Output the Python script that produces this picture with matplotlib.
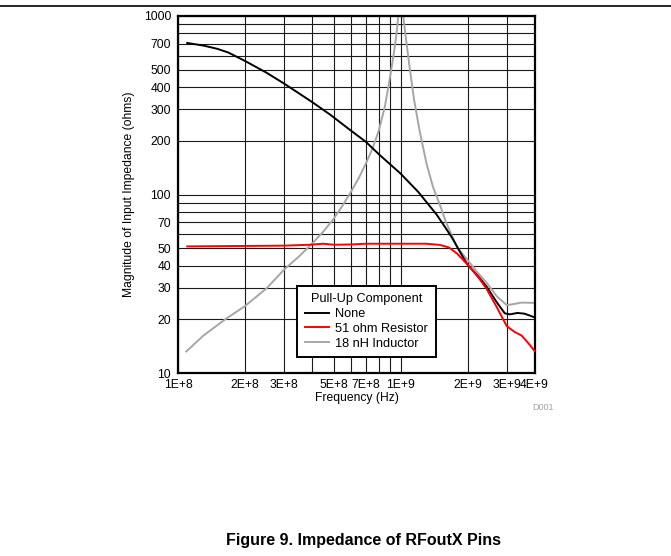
import matplotlib
matplotlib.use("Agg")
import matplotlib.pyplot as plt
from matplotlib.ticker import FixedLocator, NullFormatter

plt.rcParams['font.family'] = ['Liberation Sans', 'DejaVu Sans']

# ---- data ----
freq_none = [1.1e8, 1.3e8, 1.5e8, 1.68e8, 2e8, 2.5e8, 3e8, 4e8, 4.83e8, 5.93e8,
             6.96e8, 8.08e8, 1.0e9, 1.2e9, 1.45e9, 1.55e9, 1.7e9, 1.91e9, 2e9,
             2.27e9, 2.44e9, 2.7e9, 2.94e9, 3.1e9, 3.35e9, 3.6e9, 3.8e9, 4e9]
z_none = [706, 683, 655, 625, 560, 481, 418, 330, 280, 230,
          198, 166, 131, 103.5, 77.4, 68.5, 57.5, 44.5, 40.5,
          34, 30.4, 25, 21.6, 21.3, 21.7, 21.5, 21, 20.5]

freq_res = [1.1e8, 2e8, 3e8, 3.9e8, 4.5e8, 5e8, 6e8, 7e8, 1e9, 1.3e9, 1.5e9,
            1.65e9, 1.8e9, 2e9, 2.25e9, 2.44e9, 2.7e9, 3.0e9, 3.25e9, 3.5e9,
            3.75e9, 4e9]
z_res = [51.2, 51.5, 51.7, 52.3, 53, 52.3, 52.5, 53, 53, 53, 52.2,
         50.5, 46.5, 40.5, 34, 29.5, 23.5, 18.3, 17, 16.2,
         14.7, 13.3]

freq_ind = [1.09e8, 1.3e8, 1.65e8, 2e8, 2.5e8, 3e8, 3.5e8, 4e8, 4.5e8, 5e8,
            5.5e8, 6e8, 6.5e8, 7e8, 7.5e8, 8e8, 8.5e8, 8.9e8, 9.3e8, 9.6e8,
            9.8e8, 1.0e9, 1.02e9, 1.05e9, 1.1e9, 1.15e9, 1.22e9, 1.31e9, 1.4e9,
            1.5e9, 1.6e9, 1.7e9, 1.81e9, 2e9, 2.2e9, 2.44e9, 2.7e9, 3.0e9,
            3.2e9, 3.5e9, 4e9]
z_ind = [13.2, 16.2, 20.2, 23.7, 29.8, 38, 45, 53, 62, 73,
         87, 104, 124, 150, 182, 230, 310, 430, 600, 800,
         1050, 1400, 1100, 800, 510, 340, 225, 148, 110,
         88, 70, 59, 50, 43, 37, 32, 27, 24,
         24.3, 24.8, 24.7]

x_ticks = [1e8, 2e8, 3e8, 5e8, 7e8, 1e9, 2e9, 3e9, 4e9]
x_tick_labels = ["1E+8", "2E+8", "3E+8", "5E+8", "7E+8", "1E+9", "2E+9", "3E+9", "4E+9"]
x_grid = [m * 1e8 for m in range(2, 10)] + [2e9, 3e9, 4e9]
y_ticks = [10, 20, 30, 40, 50, 70, 100, 200, 300, 400, 500, 700, 1000]
y_grid = [m for m in range(20, 100, 10)] + [m for m in range(200, 1000, 100)] + [100]

series_labels = ["None", "51 ohm Resistor", "18 nH Inductor"]
series_colors = ["#000000", "#ff0000", "#a6a6a6"]

# ---- figure ----
fig = plt.figure(figsize=(6.71, 5.56), dpi=100)
ax = fig.add_axes([178 / 671, 1 - 373 / 556, 357 / 671, 357 / 556])

ax.set_xscale('log')
ax.set_yscale('log')
ax.set_xlim(1e8, 4.02e9)
ax.set_ylim(10, 1000)

ax.xaxis.set_major_locator(FixedLocator(x_ticks))
ax.set_xticklabels(x_tick_labels)
ax.xaxis.set_minor_locator(FixedLocator(x_grid))
ax.xaxis.set_minor_formatter(NullFormatter())
ax.yaxis.set_major_locator(FixedLocator(y_ticks))
ax.set_yticklabels([str(v) for v in y_ticks])
ax.yaxis.set_minor_locator(FixedLocator(y_grid))
ax.yaxis.set_minor_formatter(NullFormatter())

ax.grid(which='both', color='#1a1a1a', linewidth=0.8)
ax.set_axisbelow(True)
ax.tick_params(which='both', length=0, labelsize=8.7, colors='#000000')
ax.tick_params(axis='y', pad=5)
ax.tick_params(axis='x', pad=4)

for s in ax.spines.values():
    s.set_linewidth(1.6)
    s.set_color('black')

ax.plot(freq_none, z_none, color=series_colors[0], lw=1.4, label=series_labels[0], zorder=3)
ax.plot(freq_res, z_res, color=series_colors[1], lw=1.4, label=series_labels[1], zorder=3)
ax.plot(freq_ind, z_ind, color=series_colors[2], lw=1.4, label=series_labels[2], zorder=2)

leg = ax.legend(title="Pull-Up Component", loc='lower left',
                bbox_to_anchor=(0.333, 0.044), fontsize=9.2, title_fontsize=9.2,
                frameon=True, fancybox=False, framealpha=1, edgecolor='black',
                handlelength=1.9, handletextpad=0.5, labelspacing=0.22,
                borderpad=0.6, borderaxespad=0)
leg.get_frame().set_linewidth(1.4)
leg.set_zorder(5)

ax.set_xlabel("Frequency (Hz)", fontsize=8.7, labelpad=1)
ax.set_ylabel("Magnitude of Input Impedance (ohms)", fontsize=8.7, labelpad=6)

fig.text(543 / 671, 1 - 408 / 556, "D001", fontsize=6.5, color='#a0a0a0',
         ha='center', va='center')
fig.text(364 / 671, 1 - 541 / 556, "Figure 9. Impedance of RFoutX Pins",
         fontsize=11.5, fontweight='bold', ha='center', va='center')

# top rule line
fig.add_artist(plt.Line2D([0, 1], [1 - 6 / 556, 1 - 6 / 556], color='black',
                          lw=1.2, transform=fig.transFigure))

fig.savefig("out.png", dpi=100)
